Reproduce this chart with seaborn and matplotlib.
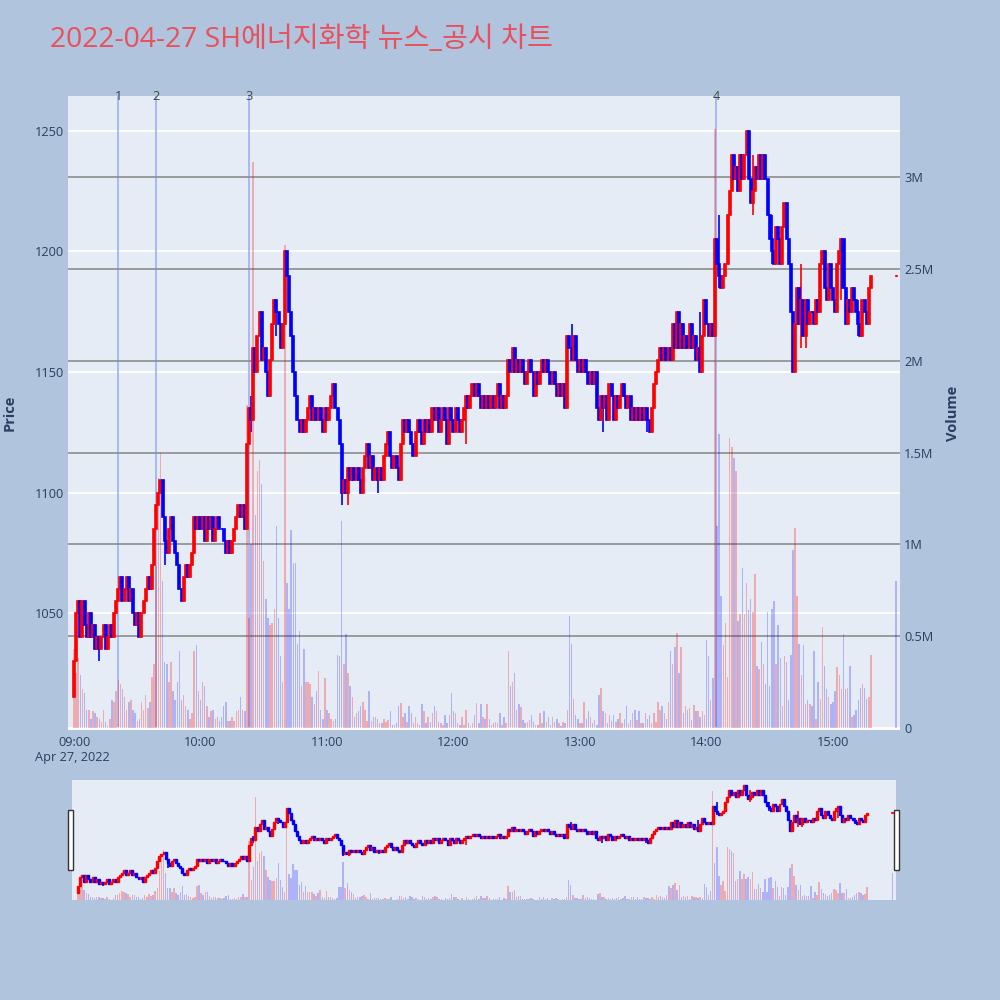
import matplotlib
matplotlib.use("Agg")
import matplotlib.pyplot as plt
import matplotlib.patches as mpatches
import matplotlib.transforms as mtransforms
import numpy as np
import pandas as pd
import seaborn as sns

# minute closes from 09:00 (one per minute)
close_px = [
    1030, 1050, 1055, 1040, 1055, 1045, 1040, 1050, 1040, 1045,
    1035, 1040, 1035, 1040, 1045, 1035, 1040, 1045, 1040, 1050,
    1055, 1060, 1065, 1055, 1060, 1065, 1055, 1060, 1050, 1045,
    1050, 1040, 1050, 1055, 1060, 1065, 1060, 1070, 1085, 1095,
    1100, 1105, 1090, 1080, 1075, 1085, 1090, 1080, 1075, 1070,
    1060, 1055, 1065, 1070, 1065, 1070, 1075, 1090, 1085, 1090,
    1085, 1090, 1080, 1090, 1085, 1090, 1080, 1085, 1090, 1085,
    1085, 1080, 1075, 1080, 1075, 1080, 1085, 1090, 1095, 1090,
    1095, 1085, 1120, 1135, 1130, 1160, 1150, 1165, 1175, 1155,
    1160, 1150, 1140, 1155, 1170, 1180, 1175, 1170, 1160, 1170,
    1200, 1190, 1175, 1165, 1150, 1140, 1130, 1125, 1130, 1125,
    1130, 1135, 1140, 1130, 1135, 1130, 1135, 1130, 1125, 1135,
    1130, 1135, 1140, 1145, 1135, 1130, 1120, 1100, 1105, 1100,
    1110, 1105, 1110, 1105, 1110, 1105, 1100, 1110, 1115, 1120,
    1110, 1115, 1105, 1110, 1105, 1110, 1105, 1115, 1120, 1125,
    1115, 1110, 1115, 1110, 1105, 1120, 1130, 1125, 1130, 1125,
    1120, 1115, 1125, 1130, 1125, 1120, 1130, 1125, 1130, 1125,
    1135, 1130, 1135, 1125, 1130, 1135, 1130, 1120, 1135, 1130,
    1125, 1135, 1130, 1125, 1130, 1135, 1140, 1135, 1140, 1145,
    1140, 1145, 1140, 1135, 1140, 1135, 1140, 1135, 1140, 1135,
    1140, 1145, 1135, 1140, 1135, 1140, 1155, 1150, 1160, 1150,
    1155, 1150, 1155, 1150, 1145, 1150, 1155, 1150, 1140, 1150,
    1145, 1150, 1155, 1150, 1155, 1150, 1145, 1150, 1145, 1140,
    1145, 1140, 1145, 1135, 1165, 1160, 1155, 1165, 1155, 1150,
    1155, 1150, 1155, 1150, 1145, 1150, 1145, 1150, 1135, 1130,
    1140, 1135, 1140, 1130, 1145, 1140, 1130, 1140, 1135, 1140,
    1145, 1140, 1135, 1140, 1130, 1135, 1130, 1135, 1130, 1135,
    1130, 1135, 1130, 1125, 1135, 1145, 1150, 1155, 1160, 1155,
    1160, 1155, 1160, 1155, 1170, 1160, 1175, 1160, 1170, 1160,
    1165, 1160, 1170, 1160, 1165, 1155, 1160, 1150, 1165, 1180,
    1170, 1165, 1170, 1165, 1205, 1195, 1190, 1185, 1190, 1195,
    1215, 1225, 1240, 1230, 1235, 1225, 1240, 1230, 1240, 1250,
    1230, 1220, 1225, 1235, 1230, 1240, 1230, 1240, 1230, 1215,
    1205, 1200, 1195, 1210, 1205, 1195, 1210, 1220, 1205, 1195,
    1175, 1150, 1170, 1185, 1170, 1180, 1165, 1180, 1170, 1175,
    1175, 1170, 1180, 1175, 1195, 1200, 1185, 1180, 1195, 1185,
    1180, 1175, 1195, 1200, 1205, 1185, 1170, 1180, 1175, 1185,
    1180, 1175, 1170, 1165, 1180, 1175, 1170, 1185, 1190,
]
first_open = 1015

# minute volumes, thousands of shares
volume_k = [
    430, 300, 380, 290, 210, 190, 100, 100, 50, 90,
    80, 60, 50, 30, 100, 30, 10, 50, 150, 140,
    200, 260, 240, 210, 170, 100, 140, 150, 100, 80,
    40, 50, 140, 100, 180, 110, 140, 280, 350, 880,
    1360, 1500, 800, 360, 350, 250, 360, 200, 150, 250,
    420, 150, 180, 120, 100, 50, 80, 420, 450, 200,
    150, 250, 230, 120, 60, 90, 100, 50, 60, 40,
    60, 120, 140, 40, 40, 60, 40, 90, 100, 170,
    100, 90, 1760, 600, 1000, 3080, 1160, 1400, 1460, 1330,
    910, 700, 600, 560, 570, 650, 1100, 600, 390, 250,
    2630, 790, 650, 1080, 900, 900, 460, 530, 230, 430,
    250, 250, 240, 170, 130, 200, 310, 100, 50, 270,
    100, 80, 50, 40, 50, 400, 390, 1130, 350, 510,
    300, 230, 170, 60, 80, 90, 120, 140, 100, 40,
    200, 40, 60, 60, 50, 25, 25, 50, 35, 45,
    90, 15, 15, 25, 120, 135, 60, 80, 35, 120,
    80, 25, 60, 25, 15, 130, 90, 25, 60, 35,
    80, 120, 90, 35, 25, 15, 70, 25, 70, 190,
    90, 80, 25, 15, 60, 15, 100, 25, 10, 25,
    70, 135, 25, 130, 60, 50, 130, 50, 15, 25,
    35, 25, 80, 15, 60, 25, 420, 230, 250, 300,
    100, 130, 115, 45, 25, 35, 45, 70, 35, 15,
    15, 80, 25, 90, 35, 60, 15, 60, 35, 50,
    25, 10, 35, 25, 100, 610, 460, 160, 70, 50,
    25, 25, 140, 50, 90, 60, 25, 45, 15, 180,
    220, 90, 80, 25, 70, 40, 70, 35, 50, 80,
    25, 50, 120, 25, 45, 80, 100, 45, 90, 25,
    25, 80, 50, 70, 25, 80, 35, 140, 100, 120,
    80, 50, 140, 420, 350, 440, 520, 300, 440, 80,
    120, 100, 110, 45, 125, 90, 90, 60, 90, 70,
    480, 390, 150, 270, 3260, 1100, 1600, 720, 450, 570,
    280, 1580, 1530, 1470, 1400, 580, 620, 870, 620, 790,
    640, 700, 630, 840, 340, 320, 470, 350, 240, 630,
    230, 650, 690, 350, 560, 380, 120, 390, 360, 150,
    400, 970, 1090, 720, 460, 290, 450, 130, 150, 130,
    120, 420, 50, 250, 160, 550, 340, 210, 170, 130,
    140, 200, 330, 290, 210, 510, 210, 220, 340, 60,
    70, 100, 150, 220, 240, 220, 160, 170, 400,
]

# visible wicks: minute, high, low
wick_min = [12, 43, 84, 96, 127, 130, 144, 154, 186, 236, 251, 272, 297, 304, 306, 322, 331, 338, 345, 347, 364, 372]
wick_high = [1040, 1090, 1140, 1180, 1120, 1110, 1110, 1110, 1135, 1170, 1140, 1135, 1175, 1205, 1215, 1240, 1215, 1220, 1195, 1180, 1205, 1180]
wick_low = [1030, 1070, 1125, 1165, 1095, 1095, 1100, 1105, 1120, 1155, 1125, 1125, 1150, 1165, 1185, 1215, 1195, 1205, 1160, 1160, 1180, 1165]

# closing auction
auction_time = "15:30"
auction_px = 1190
auction_vol_k = 800

news_times = ["09:21", "09:39", "10:23", "14:04:30"]
news_labels = ["1", "2", "3", "4"]
tick_times = ["09:00", "10:00", "11:00", "12:00", "13:00", "14:00", "15:00"]
price_ticks = [1050, 1100, 1150, 1200, 1250]
vol_ticks_k = [0, 500, 1000, 1500, 2000, 2500, 3000]
vol_tick_labels = ["0", "0.5M", "1M", "1.5M", "2M", "2.5M", "3M"]

title = "2022-04-27 SH에너지화학 뉴스_공시 차트"


def to_min(t):
    parts = [int(p) for p in t.split(":")]
    if len(parts) == 2:
        parts.append(0)
    return (parts[0] - 9) * 60 + parts[1] + parts[2] / 60.0


n = min(len(close_px), len(volume_k))
df = pd.DataFrame({"close": close_px[:n], "volume": volume_k[:n]})
df["minute"] = np.arange(n)
df["open"] = [first_open] + close_px[:n - 1]
df["up"] = df["close"] > df["open"]
df["color"] = np.where(df["up"], "#ff0000", "#0000ff")

wicks = pd.DataFrame({"minute": wick_min, "high": wick_high, "low": wick_low})
wicks["color"] = df.loc[wicks["minute"], "color"].values

sns.set_theme(style="white")
plt.rcParams["font.family"] = ["Open Sans", "Noto Sans CJK KR", "DejaVu Sans"]

BG = "#b0c4de"
PLOT_BG = "#e5ecf6"
TXT = "#2a3f5f"
RED = "#ff0000"

fig = plt.figure(figsize=(10, 10), dpi=100, facecolor=BG)

XLIM = (-2.85, 391.8)
P_LIM = (1001.5, 1264.5)
V_LIM = (-11, 3442)


def draw(ax_v, ax_p, body_w, body_lw, vol_w):
    vol_col = [(1, 0, 0, 0.28) if u else (0, 0, 1, 0.24) for u in df["up"]]
    ax_v.bar(df["minute"], df["volume"], width=vol_w, color=vol_col, linewidth=0, zorder=2)
    auc = to_min(auction_time)
    ax_v.bar([auc], [auction_vol_k], width=vol_w, color=(0, 0, 1, 0.24), linewidth=0, zorder=2)
    ax_p.vlines(wicks["minute"], wicks["low"], wicks["high"], colors=wicks["color"],
                lw=1.2, zorder=3)
    lo = np.minimum(df["open"], df["close"])
    hi = np.maximum(df["open"], df["close"])
    ax_p.bar(df["minute"], hi - lo, bottom=lo, width=body_w,
             color=df["color"], edgecolor=df["color"], linewidth=body_lw, zorder=3)
    # closing auction tick
    ax_p.plot([auc - 0.3, auc + 0.3], [auction_px] * 2, color=RED, lw=1.5, zorder=3)


# ---- main chart ----
ax_v = fig.add_axes([0.068, 0.270, 0.832, 0.634])
ax_v.set_facecolor(PLOT_BG)
ax_p = ax_v.twinx()
ax_p.patch.set_visible(False)

for m in news_times:
    ax_v.axvline(to_min(m), color="#8ea4f2", lw=1.1, alpha=0.9, zorder=1)

draw(ax_v, ax_p, 0.95, 1.2, 0.7)

ax_v.set_xlim(*XLIM)
ax_v.set_ylim(*V_LIM)
ax_p.set_ylim(*P_LIM)

# gridlines: volume (gray) and price (white) both under the marks
for v in vol_ticks_k[1:]:
    ax_v.axhline(v, color="#8c8c8c", lw=1.2, zorder=1.5)
ax_v.axhline(0, color="white", lw=2, zorder=1.5)
for p in price_ticks:
    frac = (p - P_LIM[0]) / (P_LIM[1] - P_LIM[0])
    ax_v.axhline(V_LIM[0] + frac * (V_LIM[1] - V_LIM[0]), color="white", lw=1.3, zorder=0.5)

ax_p.yaxis.tick_left()
ax_p.yaxis.set_label_position("left")
ax_v.yaxis.tick_right()
ax_v.yaxis.set_label_position("right")
ax_p.set_yticks(price_ticks)
ax_p.set_yticklabels([str(p) for p in price_ticks])
ax_v.set_yticks(vol_ticks_k)
ax_v.set_yticklabels(vol_tick_labels)
ax_v.set_xticks([to_min(t) for t in tick_times])
ax_v.set_xticklabels(tick_times)
ax_p.tick_params(axis="y", length=0, pad=3, labelsize=9.2, labelcolor=TXT)
ax_v.tick_params(axis="y", length=0, pad=3, labelsize=9.2, labelcolor=TXT)
ax_v.tick_params(axis="x", length=0, pad=4, labelsize=9.2, labelcolor=TXT)
ax_v.grid(False)
ax_p.grid(False)
for a in (ax_v, ax_p):
    for s in a.spines.values():
        s.set_visible(False)

trans = mtransforms.blended_transform_factory(ax_p.transData, ax_p.transAxes)
for m, lab in zip(news_times, news_labels):
    ax_p.text(to_min(m), 1.0, lab, transform=trans, ha="center", va="center",
              fontsize=9.2, color="#444444", clip_on=False)

fig.text(0.072, 0.242, "Apr 27, 2022", ha="center", va="center", fontsize=9.2, color=TXT)
fig.text(0.010, 0.587, "Price", rotation=90, ha="center", va="center",
         fontsize=10.5, fontweight="bold", color=TXT)
fig.text(0.953, 0.587, "Volume", rotation=90, ha="center", va="center",
         fontsize=10.5, fontweight="bold", color=TXT)
fig.text(0.050, 0.960, title, ha="left", va="center", fontsize=20.3, color="#e8505b")

# ---- range slider ----
rs_v = fig.add_axes([0.072, 0.100, 0.824, 0.120])
rs_v.set_facecolor(PLOT_BG)
rs_p = rs_v.twinx()
rs_p.patch.set_visible(False)
draw(rs_v, rs_p, 0.95, 1.0, 0.7)
rs_v.set_xlim(*XLIM)
rs_v.set_ylim(0, 3600)
rs_p.set_ylim(1000, 1262)
for a in (rs_v, rs_p):
    a.set_xticks([])
    a.set_yticks([])
    a.grid(False)
    for s in a.spines.values():
        s.set_visible(False)

for x0 in (0.068, 0.894):
    fig.patches.append(mpatches.Rectangle((x0, 0.130), 0.005, 0.060, transform=fig.transFigure,
                                          facecolor="white", edgecolor="#333333", lw=1))

fig.savefig("out.png", dpi=100, facecolor=BG)
